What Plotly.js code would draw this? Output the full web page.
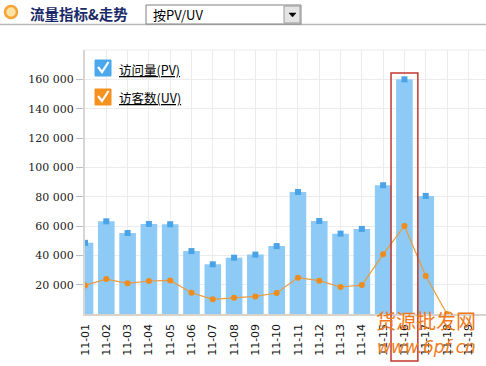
<!DOCTYPE html>
<html>
<head>
<meta charset="utf-8">
<script src="https://cdn.plot.ly/plotly-3.0.1.min.js"></script>
<style>
html,body{margin:0;padding:0;background:#fff;}
#chart{width:486px;height:366px;}
</style>
</head>
<body>
<div id="chart"></div>
<script>
// ---- data ----
const categories = ['11-01','11-02','11-03','11-04','11-05','11-06','11-07','11-08','11-09','11-10',
                    '11-11','11-12','11-13','11-14','11-15','11-16','11-17','11-18','11-19'];
const pvValues = [48500, 63200, 55200, 61400, 61200, 42900, 33900, 38400, 40500, 46300,
                  83200, 63400, 54800, 58000, 87800, 160000, 80500, null, null];
const uvValues = [19500, 23800, 20900, 22500, 22900, 14500, 10000, 11100, 12000, 14300,
                  24800, 22700, 18400, 19700, 40700, 60000, 25900, 0, null];
const yTickVals = [20000, 40000, 60000, 80000, 100000, 120000, 140000, 160000];
const yTickText = ['20 000','40 000','60 000','80 000','100 000','120 000','140 000','160 000'];
const seriesNames = ['访问量(PV)', '访客数(UV)'];
const headerTitle = '流量指标&amp;走势';
const selectText = '按PV/UV';
const highlightIndex = 15;

// ---- layout helpers (pixel -> paper) ----
const W = 486, H = 366, ML = 85, MR = 0, MT = 50, MB = 52;
const PW = W - ML - MR, PH = H - MT - MB;
const px = x => (x - ML) / PW;
const py = y => (H - MB - y) / PH;

const traces = [
  {
    type: 'bar', x: categories, y: pvValues, name: seriesNames[0],
    marker: {color: '#8dcaf5'}, hoverinfo: 'skip', showlegend: false
  },
  {
    type: 'scatter', mode: 'markers', x: categories, y: pvValues,
    marker: {symbol: 'square', size: 6, color: '#4aa3e6'}, hoverinfo: 'skip', showlegend: false
  },
  {
    type: 'scatter', mode: 'lines+markers', x: categories, y: uvValues, name: seriesNames[1],
    line: {color: '#ec9a3c', width: 1.2},
    marker: {symbol: 'circle', size: 6, color: '#ee8c1c'}, hoverinfo: 'skip', showlegend: false
  }
];

const shapes = [
  // top grid line
  {type:'line', xref:'paper', yref:'paper', x0:0, x1:1, y0:1, y1:1, line:{color:'#ececec', width:1}},
  // header rule
  {type:'line', xref:'paper', yref:'paper', x0:px(0), x1:px(486), y0:py(24.5), y1:py(24.5), line:{color:'#b8b8b8', width:1.5}},
  // header icon
  {type:'circle', xref:'paper', yref:'paper', x0:px(5), x1:px(17), y0:py(18), y1:py(6), fillcolor:'#fde2a8', line:{color:'#f5a334', width:2.5}},
  // select box
  {type:'rect', xref:'paper', yref:'paper', x0:px(146), x1:px(301), y0:py(24), y1:py(5), fillcolor:'#ffffff', line:{color:'#808080', width:1}},
  {type:'rect', xref:'paper', yref:'paper', x0:px(284), x1:px(300), y0:py(23), y1:py(6), fillcolor:'#e4e4e4', line:{color:'#9a9a9a', width:1}},
  {type:'path', xref:'paper', yref:'paper',
   path:`M${px(289)},${py(13)} L${px(296)},${py(13)} L${px(292.5)},${py(17)} Z`, fillcolor:'#000', line:{color:'#000', width:0.5}},
  // legend checkboxes
  {type:'rect', xref:'paper', yref:'paper', x0:px(95), x1:px(111), y0:py(76), y1:py(60), fillcolor:'#4ba8ec', line:{color:'#4ba8ec', width:1}},
  {type:'path', xref:'paper', yref:'paper',
   path:`M${px(98)},${py(67)} L${px(102)},${py(72)} L${px(108.5)},${py(62)}`, line:{color:'#ffffff', width:2.2}},
  {type:'rect', xref:'paper', yref:'paper', x0:px(95), x1:px(111), y0:py(105), y1:py(89), fillcolor:'#f5911e', line:{color:'#f5911e', width:1}},
  {type:'path', xref:'paper', yref:'paper',
   path:`M${px(98)},${py(96)} L${px(102)},${py(101)} L${px(108.5)},${py(91)}`, line:{color:'#ffffff', width:2.2}},
  // highlight rectangle
  {type:'rect', xref:'x', yref:'paper', x0:highlightIndex - 0.63, x1:highlightIndex + 0.63, y0:py(361), y1:py(73),
   fillcolor:'rgba(0,0,0,0)', line:{color:'#c2372f', width:1.5}}
];

const annotations = [
  {xref:'paper', yref:'paper', x:px(28), y:py(14), xanchor:'left', yanchor:'middle', showarrow:false,
   text:'<b>' + headerTitle + '</b>', font:{family:'Noto Sans CJK SC', size:14.5, color:'#1a2a68'}},
  {xref:'paper', yref:'paper', x:px(151), y:py(14.5), xanchor:'left', yanchor:'middle', showarrow:false,
   text:selectText, font:{family:'Noto Sans CJK SC', size:13, color:'#000'}},
  {xref:'paper', yref:'paper', x:px(117), y:py(69), xanchor:'left', yanchor:'middle', showarrow:false,
   text:'<u>' + seriesNames[0] + '</u>', font:{family:'Noto Sans CJK SC', size:12.5, color:'#000'}},
  {xref:'paper', yref:'paper', x:px(117), y:py(98), xanchor:'left', yanchor:'middle', showarrow:false,
   text:'<u>' + seriesNames[1] + '</u>', font:{family:'Noto Sans CJK SC', size:12.5, color:'#000'}},
  // watermark
  {xref:'paper', yref:'paper', x:px(426), y:py(320), xanchor:'center', yanchor:'middle', showarrow:false,
   text:'货源批发网', font:{family:'Noto Sans CJK SC', size:20, color:'#f07a1a'}},
  {xref:'paper', yref:'paper', x:px(426), y:py(347), xanchor:'center', yanchor:'middle', showarrow:false,
   text:'<i>www.6pf.cn</i>', font:{family:'DejaVu Sans', size:17, color:'#f07a1a'}}
];

const layout = {
  width: W, height: H, autosize: false,
  margin: {l: ML, r: MR, t: MT, b: MB, pad: 0},
  paper_bgcolor: '#ffffff', plot_bgcolor: '#ffffff',
  bargap: 0.22,
  showlegend: false,
  xaxis: {
    type: 'category', range: [0, 18.83],
    showgrid: true, gridcolor: '#ececec', gridwidth: 1,
    showline: true, linecolor: '#d9d3cc', linewidth: 1.5,
    ticks: '', tickangle: -90, ticklabelstandoff: 4,
    tickfont: {family: 'DejaVu Sans', size: 11, color: '#111'},
    fixedrange: true
  },
  yaxis: {
    range: [0, 180000],
    tickvals: yTickVals, ticktext: yTickText,
    showgrid: true, gridcolor: '#ececec', gridwidth: 1,
    zeroline: false,
    showline: true, linecolor: '#d6d6d6', linewidth: 2,
    ticks: 'outside', ticklen: 7, tickcolor: '#bdbdbd', tickwidth: 1,
    tickfont: {family: 'DejaVu Serif', size: 11, color: '#222'},
    fixedrange: true
  },
  shapes: shapes,
  annotations: annotations
};

Plotly.newPlot('chart', traces, layout, {displayModeBar: false, staticPlot: true});
</script>
</body>
</html>
